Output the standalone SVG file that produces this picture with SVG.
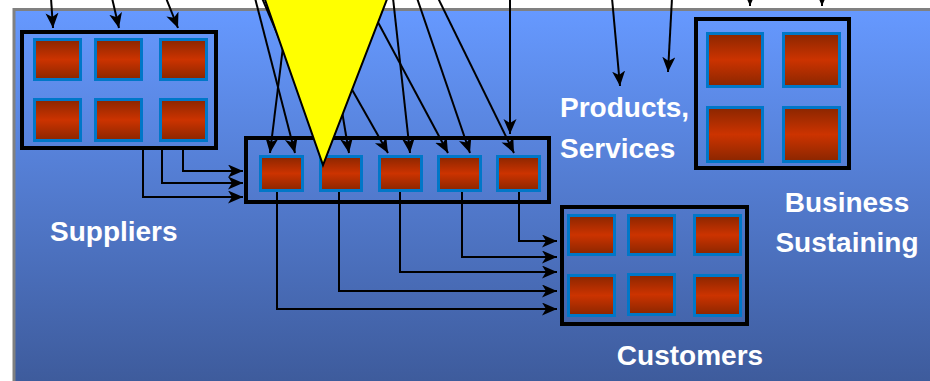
<svg xmlns="http://www.w3.org/2000/svg" width="930" height="381" viewBox="0 0 930 381">
<defs>
<linearGradient id="bg" x1="0" y1="0" x2="0" y2="1">
<stop offset="0" stop-color="#6699FF"/>
<stop offset="1" stop-color="#3D5A9A"/>
</linearGradient>
<linearGradient id="sq" x1="0" y1="0" x2="0" y2="1">
<stop offset="0" stop-color="#8A2600"/>
<stop offset="0.5" stop-color="#CC3300"/>
<stop offset="1" stop-color="#8A2600"/>
</linearGradient>
<marker id="ah" markerUnits="userSpaceOnUse" markerWidth="16" markerHeight="14" refX="15" refY="6.5" orient="auto">
<path d="M0,0 L15,6.5 L0,13 L4,6.5 z" fill="#000"/>
</marker>
</defs>
<style>
.box{fill:none;stroke:#000;stroke-width:4}
.sq{fill:url(#sq);stroke:#0077C8;stroke-width:3}
.c{fill:none;stroke:#000;stroke-width:2;marker-end:url(#ah)}
.t{font-family:"Liberation Sans",Arial,sans-serif;font-weight:bold;font-size:28px;fill:#FFFFFF}
</style>
<rect x="0" y="0" width="930" height="381" fill="#FFFFFF"/>
<rect x="14" y="9.5" width="930" height="380" fill="url(#bg)" stroke="#808080" stroke-width="3"/>

<g id="connectors">
<path class="c" d="M51,-2 L53,28"/>
<path class="c" d="M112,-2 L119,28"/>
<path class="c" d="M166,-2 L178,28"/>
<path class="c" d="M750,-20 L750,6"/>
<path class="c" d="M822,-20 L822,6"/>
<path class="c" d="M612,-2 L620,86"/>
<path class="c" d="M672,-2 L668,72"/>
<path class="c" d="M289,-2 L270,153"/>
<path class="c" d="M255,-2 L295,153"/>
<path class="c" d="M262,-2 L328,153"/>
<path class="c" d="M323,-2 L349,153"/>
<path class="c" d="M300,-2 L388,153"/>
<path class="c" d="M393,-2 L410,153"/>
<path class="c" d="M365,-2 L448,153"/>
<path class="c" d="M417,-2 L470,153"/>
<path class="c" d="M438,-2 L514,153"/>
<path class="c" d="M510,-2 L510,134"/>
<path class="c" d="M183,150 L183,171 L243,171"/>
<path class="c" d="M162,150 L162,183 L243,183"/>
<path class="c" d="M143,150 L143,197 L243,197"/>
<path class="c" d="M519,192 L519,241 L557,241"/>
<path class="c" d="M462,192 L462,257 L557,257"/>
<path class="c" d="M400,192 L400,272 L557,272"/>
<path class="c" d="M339,192 L339,291 L557,291"/>
<path class="c" d="M277,192 L277,309 L557,309"/>
</g>

<g id="suppliers">
<rect class="box" x="22" y="32" width="194" height="116"/>
<rect class="sq" x="34.5" y="39.5" width="46" height="40"/>
<rect class="sq" x="95.5" y="39.5" width="46" height="40"/>
<rect class="sq" x="160.5" y="39.5" width="46" height="40"/>
<rect class="sq" x="34.5" y="99.5" width="46" height="41"/>
<rect class="sq" x="95.5" y="99.5" width="46" height="41"/>
<rect class="sq" x="160.5" y="99.5" width="46" height="41"/>
<text class="t" x="50" y="241">Suppliers</text>
</g>

<g id="production">
<rect class="box" x="246" y="138" width="303" height="64"/>
<rect class="sq" x="260.5" y="156.5" width="42" height="34"/>
<rect class="sq" x="320.5" y="156.5" width="41" height="34"/>
<rect class="sq" x="379.5" y="156.5" width="42" height="34"/>
<rect class="sq" x="438.5" y="156.5" width="42" height="34"/>
<rect class="sq" x="497.5" y="156.5" width="42" height="34"/>
</g>

<g id="customers">
<rect class="box" x="562" y="207" width="185" height="117"/>
<rect class="sq" x="568.5" y="215.5" width="46" height="39"/>
<rect class="sq" x="628.5" y="215.5" width="46" height="39"/>
<rect class="sq" x="694.5" y="215.5" width="46" height="39"/>
<rect class="sq" x="568.5" y="275.5" width="46" height="40"/>
<rect class="sq" x="628.5" y="274.5" width="46" height="40"/>
<rect class="sq" x="694.5" y="275.5" width="46" height="40"/>
<text class="t" x="690" y="365" text-anchor="middle">Customers</text>
</g>

<g id="business">
<rect class="box" x="696" y="19" width="153" height="149"/>
<rect class="sq" x="707.5" y="33.5" width="55" height="53"/>
<rect class="sq" x="783.5" y="33.5" width="56" height="53"/>
<rect class="sq" x="707.5" y="107.5" width="55" height="54"/>
<rect class="sq" x="783.5" y="107.5" width="56" height="54"/>
<text class="t" x="847" y="212" text-anchor="middle">Business</text>
<text class="t" x="847" y="252" text-anchor="middle">Sustaining</text>
</g>

<g id="products">
<text class="t" x="560" y="117">Products,</text>
<text class="t" x="560" y="158">Services</text>
</g>

<g id="triangle">
<polygon points="263,-6 389,-6 323,165" fill="#FFFF00" stroke="#000" stroke-width="2" stroke-linejoin="miter"/>
</g>
</svg>
